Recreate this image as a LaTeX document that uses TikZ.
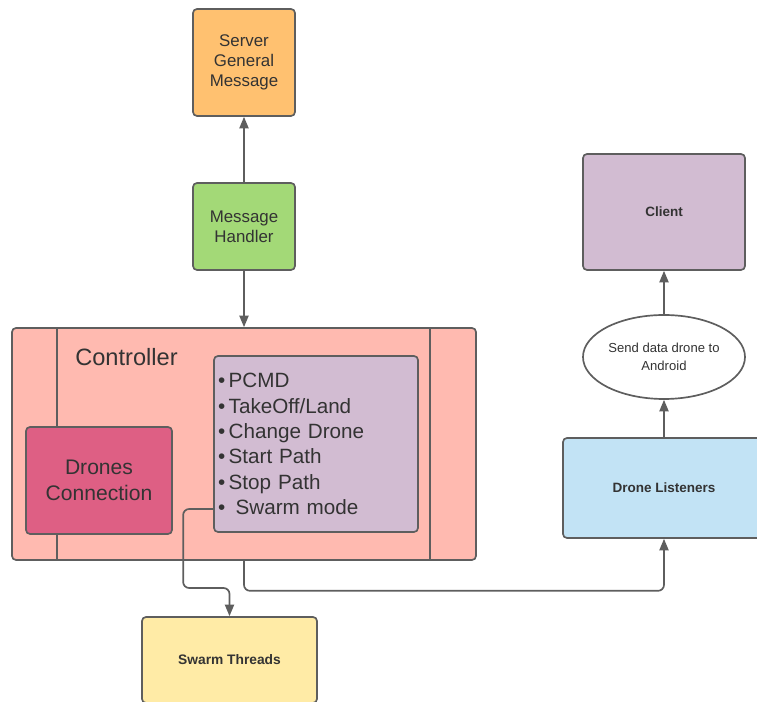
\documentclass[tikz,border=0pt]{standalone}
\usepackage{fontspec}
\setmainfont{Liberation Sans}
\usepackage{tikz}
\usetikzlibrary{shapes,arrows,positioning,fit,calc,arrows.meta}
\usepackage{xcolor}

\definecolor{linegray}{HTML}{5E5E5E}
\definecolor{txtgray}{HTML}{333333}
\definecolor{serverorange}{HTML}{FFC170}
\definecolor{handlergreen}{HTML}{A3D977}
\definecolor{ctrlpink}{HTML}{FFBAB0}
\definecolor{dronesred}{HTML}{DE5F84}
\definecolor{lavender}{HTML}{D2BCD2}
\definecolor{listenblue}{HTML}{C2E3F5}
\definecolor{swarmyellow}{HTML}{FFEBA6}

\begin{document}
\begin{tikzpicture}[
    every node/.style={text=txtgray},
    box/.style={rectangle, draw=linegray, line width=1.2pt, rounded corners=1mm, align=center, inner sep=0pt},
    arrow/.style={-{Triangle[length=2.9mm,width=2.3mm]}, draw=linegray, line width=1.2pt, rounded corners=1.5mm}
]
    \clip (0,0) rectangle (18.925,17.55);

    % Server side
    \node[box, fill=serverorange, minimum width=2.55cm, minimum height=2.675cm, font=\fontsize{12}{14}\selectfont] (server) at (6.1, 15.9875) {Server\\General\\Message};
    \node[box, fill=handlergreen, minimum width=2.55cm, minimum height=2.175cm, font=\fontsize{12}{14.4}\selectfont] (handler) at (6.1, 11.8875) {Message\\Handler};

    % Controller
    \node[box, fill=ctrlpink, minimum width=11.6cm, minimum height=5.8cm] (ctrl) at (6.1, 6.45) {};
    \draw[linegray, line width=1.2pt] ($(ctrl.north west)+(1.15,0)$) -- ($(ctrl.south west)+(1.15,0)$);
    \draw[linegray, line width=1.2pt] ($(ctrl.north east)+(-1.175,0)$) -- ($(ctrl.south east)+(-1.175,0)$);
    \node[anchor=west, inner sep=0pt, font=\fontsize{16.8}{20}\selectfont] (ctrllabel) at (1.875, 8.625) {Controller};
    \node[box, fill=dronesred, minimum width=3.65cm, minimum height=2.675cm, font=\fontsize{15}{18.6}\selectfont] (drones) at (2.475, 5.5375) {Drones\\Connection};
    \node[box, fill=lavender, minimum width=5.1cm, minimum height=4.4cm, text width=4.9cm, inner xsep=0.1cm, align=left, font=\fontsize{14.7}{18}\selectfont] (cmds) at (7.9, 6.45) {%
        •\,PCMD\\
        •\,TakeOff/Land\\
        •\,Change Drone\\
        •\,Start Path\\
        •\,Stop Path\\
        •\enspace Swarm mode};

    % Client side
    \node[box, fill=lavender, minimum width=4.05cm, minimum height=2.9cm, font=\fontsize{9.6}{11.5}\selectfont\bfseries] (client) at (16.6, 12.25) {Client};
    \node[ellipse, draw=linegray, line width=1.2pt, fill=white, minimum width=4.05cm, minimum height=2.1cm, inner sep=0pt, align=center, font=\fontsize{9.3}{12.5}\selectfont] (senddata) at (16.6, 8.625) {Send data drone to\\Android};
    \node[box, fill=listenblue, minimum width=5.05cm, minimum height=2.5cm, font=\fontsize{9.6}{11.5}\selectfont\bfseries] (listeners) at (16.6, 5.35) {Drone Listeners};
    \node[box, fill=swarmyellow, minimum width=4.375cm, minimum height=2.15cm, font=\fontsize{9.8}{11.5}\selectfont\bfseries] (swarm) at (5.7375, 1.05) {Swarm Threads};

    \coordinate (swarmout) at ($(cmds.west)+(0,-1.625)$);

    % Arrows
    \draw[arrow] (handler) -- (server);
    \draw[arrow] (handler) -- (ctrl);
    \draw[arrow] (senddata) -- (client);
    \draw[arrow] (listeners) -- (senddata);
    \draw[arrow] (ctrl.south) -- ++(0,-0.75) -| (listeners.south);
    \draw[arrow] (swarmout) -- ++(-0.75,0) -- ++(0,-1.975) -| (swarm.north);
\end{tikzpicture}
\end{document}
